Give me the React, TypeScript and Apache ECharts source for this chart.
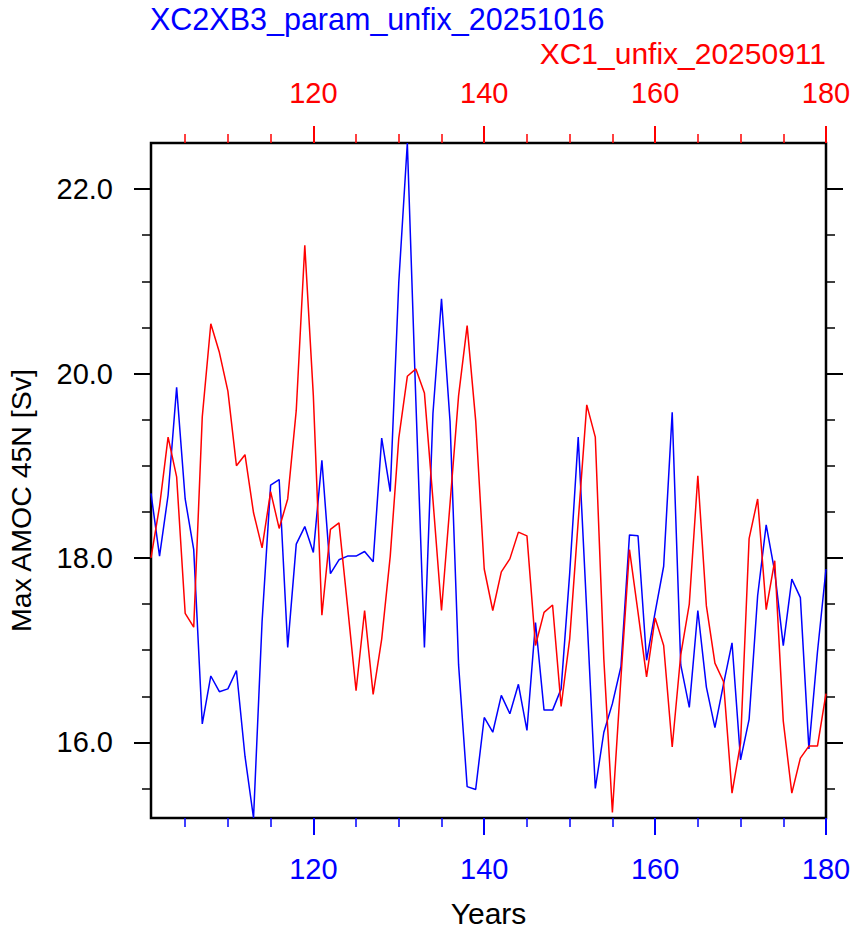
import React, { useEffect, useRef } from "react";
import * as echarts from "echarts";

// Annual maximum AMOC at 45N for two model runs, years 101-180.
const firstYear = 101;
const lastYear = 180;

const blueName = "XC2XB3_param_unfix_20251016";
const redName = "XC1_unfix_20250911";

const blueValues = [
  18.70, 18.02, 18.68, 19.85, 18.64, 18.09, 16.20, 16.72, 16.55, 16.58,
  16.78, 15.85, 15.18, 17.31, 18.79, 18.85, 17.03, 18.15, 18.34, 18.06,
  19.06, 17.83, 17.98, 18.02, 18.02, 18.07, 17.96, 19.30, 18.72, 20.99,
  22.50, 19.70, 17.03, 19.57, 20.81, 19.48, 16.84, 15.52, 15.49, 16.27,
  16.11, 16.51, 16.31, 16.63, 16.13, 17.30, 16.35, 16.35, 16.58, 17.83,
  19.31, 17.42, 15.50, 16.11, 16.42, 16.82, 18.25, 18.24, 16.89, 17.41,
  17.91, 19.58, 16.84, 16.38, 17.43, 16.60, 16.16, 16.63, 17.08, 15.81,
  16.25, 17.59, 18.36, 17.85, 17.05, 17.77, 17.57, 15.93, 16.98, 17.88,
];

const redValues = [
  18.00, 18.56, 19.31, 18.88, 17.40, 17.25, 19.53, 20.54, 20.23, 19.81,
  19.00, 19.12, 18.49, 18.11, 18.72, 18.32, 18.64, 19.60, 21.39, 19.76,
  17.38, 18.31, 18.38, 17.48, 16.56, 17.43, 16.52, 17.12, 18.02, 19.30,
  19.97, 20.05, 19.79, 18.63, 17.43, 18.59, 19.76, 20.52, 19.49, 17.88,
  17.43, 17.85, 17.99, 18.28, 18.24, 17.05, 17.41, 17.49, 16.39, 17.12,
  18.40, 19.66, 19.31, 16.90, 15.24, 16.70, 18.09, 17.41, 16.71, 17.35,
  17.05, 15.95, 16.95, 17.50, 18.89, 17.48, 16.86, 16.66, 15.45, 15.99,
  18.21, 18.64, 17.44, 17.97, 16.23, 15.45, 15.83, 15.96, 15.96, 16.53,
];

const years = blueValues.map((_, i) => firstYear + i);

const xMajorTicks = [120, 140, 160, 180];
const xMinorTicks = [105, 110, 115, 125, 130, 135, 145, 150, 155, 165, 170, 175];
const yMajorTicks = [16, 18, 20, 22];
const yMinorTicks = [15.5, 16.5, 17, 17.5, 18.5, 19, 19.5, 20.5, 21, 21.5];

const BLUE = "#0000FF";
const RED = "#FF0000";
const BLACK = "#000000";
const FONT = "'Liberation Sans', Arial, Helvetica, sans-serif";

function tickOnlyAxis(
  position: string,
  min: number,
  max: number,
  ticks: number[],
  length: number,
  color: string,
  width: number
) {
  return {
    type: "value",
    position,
    min,
    max,
    axisLine: { show: false, onZero: false },
    axisTick: {
      show: true,
      inside: false,
      customValues: ticks,
      length,
      lineStyle: { color, width },
    },
    axisLabel: { show: false },
    splitLine: { show: false },
    minorTick: { show: false },
    minorSplitLine: { show: false },
  };
}

export default function App() {
  const ref = useRef<HTMLDivElement>(null);

  useEffect(() => {
    if (!ref.current) return;
    const chart = echarts.init(ref.current, undefined, { renderer: "svg" });

    const allValues = [...blueValues, ...redValues];
    const yMin = Math.min(...allValues);
    const yMax = Math.max(...allValues);

    const option = {
      animation: false,
      backgroundColor: "#ffffff",
      title: [
        {
          text: blueName,
          left: 150,
          top: 3,
          padding: 0,
          textStyle: { color: BLUE, fontSize: 30.5, fontWeight: "normal", fontFamily: FONT },
        },
        {
          text: redName,
          right: 29,
          top: 38.6,
          padding: 0,
          textStyle: { color: RED, fontSize: 30, fontWeight: "normal", fontFamily: FONT },
        },
      ],
      grid: {
        left: 151,
        top: 143,
        width: 675,
        height: 675,
        show: true,
        borderColor: BLACK,
        borderWidth: 2.5,
        backgroundColor: "transparent",
        containLabel: false,
        outerBoundsMode: "none",
      },
      xAxis: [
        {
          type: "value",
          position: "bottom",
          min: firstYear,
          max: lastYear,
          axisLine: { show: false, onZero: false },
          axisTick: {
            show: true,
            inside: false,
            customValues: xMajorTicks,
            length: 17,
            lineStyle: { color: BLUE, width: 2 },
          },
          axisLabel: {
            show: true,
            customValues: xMajorTicks,
            color: BLUE,
            fontSize: 29,
            fontFamily: FONT,
            margin: 36,
          },
          splitLine: { show: false },
          name: "Years",
          nameLocation: "middle",
          nameGap: 80,
          nameTextStyle: { color: BLACK, fontSize: 30, fontFamily: FONT },
        },
        {
          type: "value",
          position: "top",
          min: firstYear,
          max: lastYear,
          axisLine: { show: false, onZero: false },
          axisTick: {
            show: true,
            inside: false,
            customValues: xMajorTicks,
            length: 17,
            lineStyle: { color: RED, width: 2 },
          },
          axisLabel: {
            show: true,
            customValues: xMajorTicks,
            color: RED,
            fontSize: 29,
            fontFamily: FONT,
            margin: 36,
          },
          splitLine: { show: false },
        },
        tickOnlyAxis("bottom", firstYear, lastYear, xMinorTicks, 9, BLUE, 1.5),
        tickOnlyAxis("top", firstYear, lastYear, xMinorTicks, 9, RED, 1.5),
      ],
      yAxis: [
        {
          type: "value",
          position: "left",
          min: yMin,
          max: yMax,
          axisLine: { show: false, onZero: false },
          axisTick: {
            show: true,
            inside: false,
            customValues: yMajorTicks,
            length: 17,
            lineStyle: { color: BLACK, width: 2 },
          },
          axisLabel: {
            show: true,
            customValues: yMajorTicks,
            formatter: (v: number) => v.toFixed(1),
            color: BLACK,
            fontSize: 29,
            fontFamily: FONT,
            margin: 38,
          },
          splitLine: { show: false },
          name: "Max AMOC 45N [Sv]",
          nameLocation: "middle",
          nameGap: 116,
          nameTextStyle: {
            color: BLACK,
            fontSize: 28.5,
            fontFamily: FONT,
            padding: [0, 40, 0, 0],
          },
        },
        tickOnlyAxis("left", yMin, yMax, yMinorTicks, 9, BLACK, 1.5),
        tickOnlyAxis("right", yMin, yMax, yMajorTicks, 17, BLACK, 2),
        tickOnlyAxis("right", yMin, yMax, yMinorTicks, 9, BLACK, 1.5),
      ],
      series: [
        {
          type: "line",
          name: blueName,
          xAxisIndex: 0,
          yAxisIndex: 0,
          data: years.map((yr, i) => [yr, blueValues[i]]),
          showSymbol: false,
          symbol: "none",
          clip: false,
          lineStyle: { color: BLUE, width: 1.5 },
          itemStyle: { color: BLUE },
        },
        {
          type: "line",
          name: redName,
          xAxisIndex: 1,
          yAxisIndex: 0,
          data: years.map((yr, i) => [yr, redValues[i]]),
          showSymbol: false,
          symbol: "none",
          clip: false,
          lineStyle: { color: RED, width: 1.5 },
          itemStyle: { color: RED },
        },
      ],
    };

    chart.setOption(option as any);
    return () => chart.dispose();
  }, []);

  return (
    <div
      ref={ref}
      style={{ position: "absolute", left: 0, top: 0, width: 855, height: 932 }}
    />
  );
}
